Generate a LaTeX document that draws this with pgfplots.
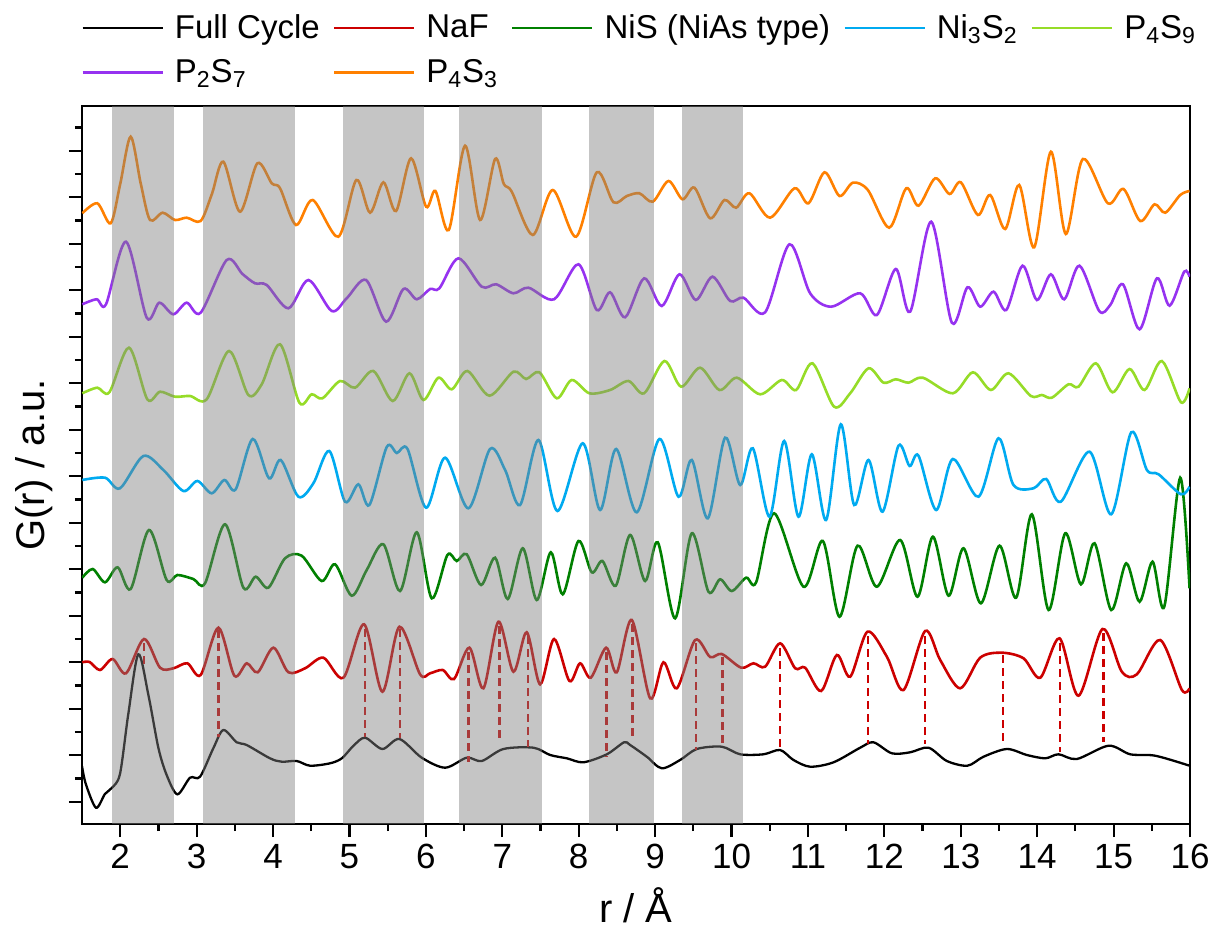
\documentclass[border=0pt]{standalone}
\usepackage{fontspec}
\setmainfont{Liberation Sans}
\usepackage{pgfplots}
\pgfplotsset{compat=1.18}
\definecolor{cBlack}{RGB}{0,0,0}
\definecolor{cNaF}{RGB}{204,0,0}
\definecolor{cNiS}{RGB}{0,128,0}
\definecolor{cNiTS}{RGB}{0,170,240}
\definecolor{cPFN}{RGB}{150,220,40}
\definecolor{cPTS}{RGB}{150,50,240}
\definecolor{cPFT}{RGB}{255,128,0}
\begin{document}
\begin{tikzpicture}
\useasboundingbox (-41pt,-56pt) rectangle (565.5pt,412pt);
\begin{axis}[
  at={(0pt,0pt)}, anchor=south west,
  scale only axis, width=554pt, height=359pt,
  xmin=1.5, xmax=16, ymin=0, ymax=718,
  xtick={2,3,...,16}, minor x tick num=1,
  ytick={22.3,68.8,...,700}, minor ytick={45.55,92.05,...,710}, yticklabels={},
  tick align=outside, xtick pos=bottom, ytick pos=left,
  major tick length=6.5pt, minor tick length=3.5pt,
  axis line style={line width=1.3pt},
  every tick/.style={line width=1.1pt, black},
  /pgf/number format/assume math mode=true,
  tick label style={font=\fontsize{17.5}{20}\selectfont},
  xlabel={r / Å}, ylabel={G(r) / a.u.},
  label style={font=\fontsize{20}{24}\selectfont},
  xlabel style={at={(axis description cs:0.5,-0.137)}, anchor=base},
  ylabel style={at={(axis description cs:-0.043,0.5)}, anchor=center},
  legend columns=5,
  legend cell align=left,
  legend style={draw=none, fill=none, at={(axis description cs:-0.001,1.132)}, anchor=north west,
    font=\fontsize{16.5}{19}\selectfont, inner sep=0pt, row sep=6pt,
    nodes={inner sep=1.5pt},
    /tikz/every odd column/.append style={column sep=4pt},
    /tikz/every even column/.append style={column sep=5pt}},
  legend image code/.code={\draw[#1] (0pt,0pt) -- (40pt,0pt);},
  every axis plot/.append style={line width=1.3pt},
]
% Full Cycle
\addplot[cBlack, line width=1.15pt, smooth] coordinates {
(1.5,58) (1.55,40) (1.683,16.3) (1.80,30) (1.889,36) (1.997,50) (2.106,110) (2.237,169.7) (2.369,129) (2.5,76) (2.608,49) (2.748,29.7) (2.914,46.3) (3.045,47.3) (3.22,76) (3.35,94) (3.524,81.7) (3.655,79) (3.96,65.7) (4.114,62.3) (4.31,63) (4.484,58.3) (4.746,60.7) (4.9,65.7) (5.05,78) (5.204,86.3) (5.431,75) (5.654,85) (5.946,66.3) (6.252,56.3) (6.535,66.3) (6.731,63) (7.015,75) (7.408,76.3) (7.626,69) (7.844,65.7) (8.062,61.7) (8.368,69.7) (8.594,81.7) (8.673,79) (8.891,67.3) (9.087,55.7) (9.327,64) (9.546,75) (9.873,77.3) (10.113,69.7) (10.418,69.7) (10.636,74) (10.811,64) (11.029,57.3) (11.335,61.7) (11.684,76.3) (11.858,81.7) (12.098,70.7) (12.338,71.7) (12.578,76.3) (12.818,63) (13.088,58.3) (13.298,67.3) (13.603,75) (13.865,69) (14.105,65.7) (14.279,69.7) (14.519,65) (14.934,78.3) (15.218,69.7) (15.545,68.3) (15.994,58.3)
};
\addlegendentry{Full Cycle}
% NaF
\addplot[cNaF, smooth] coordinates {
(1.504,161.7) (1.6,162) (1.736,154) (1.901,165) (2.076,150.7) (2.312,185) (2.521,156.3) (2.696,155.7) (2.879,160.7) (3.053,149) (3.285,196.3) (3.494,148.3) (3.656,160.7) (3.8,151.7) (4.005,176.3) (4.201,151.7) (4.419,155.7) (4.659,166.3) (4.921,146.3) (5.191,199.7) (5.431,132.3) (5.654,197.3) (5.924,149.7) (6.055,150.7) (6.221,154) (6.369,145) (6.57,176.3) (6.753,135.7) (6.95,202.3) (7.146,152.3) (7.32,191.7) (7.495,139.7) (7.678,185) (7.879,143) (8.018,160.7) (8.158,146.3) (8.359,176.3) (8.498,151.7) (8.695,204) (8.935,125.7) (9.109,161.7) (9.284,135.7) (9.524,184) (9.72,167) (9.873,170) (10.126,156.3) (10.287,160.7) (10.44,157.3) (10.636,180.7) (10.833,155.7) (10.964,156.3) (11.173,133) (11.378,169) (11.553,147.3) (11.779,192.3) (12.033,167.3) (12.251,134) (12.534,193) (12.731,164) (12.992,135.7) (13.254,166.3) (13.538,171.3) (13.821,165.7) (14.04,146.3) (14.293,185.7) (14.541,128.3) (14.855,195) (15.108,152.3) (15.305,149.7) (15.61,184) (15.894,134) (15.994,135.7)
};
\addlegendentry{NaF}
% NiS
\addplot[cNiS, smooth] coordinates {
(1.504,246.3) (1.64,255) (1.801,241.7) (1.967,256.7) (2.137,235) (2.377,294) (2.608,244) (2.748,249) (2.957,245) (3.11,240.7) (3.372,299.7) (3.612,236.3) (3.773,247.3) (3.939,236.3) (4.157,265.7) (4.375,268.3) (4.637,243) (4.812,259.7) (5.03,228.3) (5.226,254) (5.444,279.7) (5.662,233) (5.881,291.7) (6.077,225.7) (6.282,269) (6.404,263) (6.535,269.7) (6.723,239) (6.906,266.3) (7.072,225) (7.268,275.7) (7.451,224) (7.635,271.7) (7.792,229.7) (7.997,283) (8.171,251.7) (8.311,263) (8.485,238.3) (8.673,289) (8.869,243) (9.035,281.7) (9.262,205.7) (9.48,290.7) (9.698,232.3) (9.851,244.7) (10.004,233) (10.191,246.3) (10.322,241.7) (10.558,310.7) (10.942,237.3) (11.195,283) (11.413,207.3) (11.649,278.3) (11.902,237.3) (12.207,284) (12.434,227.3) (12.635,287.3) (12.84,228.3) (13.036,275.7) (13.263,220.7) (13.507,278.3) (13.725,226.3) (13.93,309.7) (14.149,214) (14.367,290.7) (14.572,239.7) (14.751,280.7) (14.969,214) (15.165,260.7) (15.34,222.3) (15.51,262.3) (15.663,217.3) (15.872,346.3) (15.994,235.7)
};
\addlegendentry{NiS (NiAs type)}
% Ni3S2
\addplot[cNiTS, smooth] coordinates {
(1.504,344) (1.801,346.3) (1.997,335.7) (2.303,368) (2.565,354) (2.827,333) (3.01,343) (3.197,330.7) (3.363,344) (3.511,334.7) (3.734,385) (3.948,345.7) (4.101,364) (4.332,327.3) (4.528,340.7) (4.737,373) (4.943,322.3) (5.117,339.7) (5.261,319) (5.488,377) (5.62,371) (5.76,375) (6.003,316.3) (6.251,366.3) (6.557,315.7) (6.84,375) (7.037,354) (7.233,319) (7.473,384) (7.722,313) (8.053,380.7) (8.28,314) (8.49,375) (8.76,311.7) (9.057,385) (9.306,327.3) (9.48,364) (9.69,305.7) (9.916,386.3) (10.113,339) (10.279,375.7) (10.497,307.3) (10.689,383) (10.876,307.3) (11.051,369.7) (11.238,304) (11.43,399.7) (11.605,319) (11.793,364) (11.976,312.3) (12.185,378.3) (12.33,358) (12.447,368.3) (12.678,314) (12.896,365) (13.232,327.3) (13.494,385.7) (13.69,339) (13.952,335.7) (14.118,345) (14.31,322.3) (14.685,372.3) (14.969,309.7) (15.231,391.7) (15.436,354) (15.589,349.7) (15.881,329.7) (15.994,337.3)
};
\addlegendentry{Ni\textsubscript{3}S\textsubscript{2}}
% P4S9
\addplot[cPFN, smooth] coordinates {
(1.504,430.7) (1.701,436.3) (1.858,431.7) (2.115,476.3) (2.355,424.7) (2.521,432.3) (2.717,427.3) (2.914,428) (3.132,424.7) (3.424,473) (3.677,429) (3.852,439.7) (4.092,479.7) (4.345,421.3) (4.506,429.7) (4.646,425.7) (4.877,443) (5.073,436.3) (5.313,453) (5.566,423) (5.785,450.7) (5.968,424) (6.164,446.3) (6.339,434.7) (6.544,453) (6.832,428.3) (7.146,452.3) (7.312,445) (7.486,451.7) (7.713,425.7) (7.909,444) (8.141,430.7) (8.411,434) (8.651,443) (8.856,430.7) (9.122,463) (9.34,437.3) (9.589,456.3) (9.842,434) (10.069,446.3) (10.375,429.7) (10.658,444) (10.846,434) (11.06,460.7) (11.343,417.3) (11.553,430.7) (11.793,455.7) (11.989,441.3) (12.15,444.7) (12.316,441.3) (12.504,446.3) (12.896,430.7) (13.158,451.7) (13.394,434) (13.625,450.7) (13.917,428) (14.061,429) (14.192,426.3) (14.41,439.7) (14.541,437.3) (14.768,460.7) (14.986,431.7) (15.209,455) (15.405,434) (15.632,463) (15.881,421.7) (15.994,435.7)
};
\addlegendentry{P\textsubscript{4}S\textsubscript{9}}
% P2S7
\addplot[cPTS, smooth] coordinates {
(1.504,519.7) (1.692,524.7) (1.814,519.7) (2.076,582.3) (2.347,506.3) (2.512,521.3) (2.695,509.7) (2.87,521.3) (3.053,511.3) (3.394,564) (3.6,550) (3.764,540.7) (3.917,539) (4.201,515.7) (4.463,544) (4.768,513) (4.964,525.7) (5.217,544) (5.479,502.3) (5.706,535) (5.881,524.7) (6.055,535) (6.177,535.7) (6.426,565.7) (6.731,537.3) (6.919,539.7) (7.146,530.7) (7.342,536.3) (7.678,524.7) (7.997,559.7) (8.237,514) (8.411,531.7) (8.608,506.7) (8.856,545.7) (9.087,518) (9.319,549.7) (9.533,524) (9.751,547.3) (9.982,523) (10.156,526.3) (10.44,511.7) (10.758,579.7) (11.029,530.7) (11.304,517.3) (11.684,530.7) (11.902,509) (12.15,555) (12.338,512.3) (12.613,602.3) (12.883,501.3) (13.088,536.7) (13.254,517.3) (13.429,532.3) (13.595,514) (13.808,558.3) (13.996,524) (14.179,549.7) (14.354,524.7) (14.554,558.3) (14.812,513) (14.956,519) (15.122,539.7) (15.34,494.7) (15.567,545.7) (15.733,518.3) (15.924,552.3) (15.994,547.3)
};
\addlegendentry{P\textsubscript{2}S\textsubscript{7}}
% P4S3
\addplot[cPFT, smooth] coordinates {
(1.504,610.7) (1.701,620.7) (1.875,600.7) (2.0,640) (2.137,687.3) (2.27,640) (2.39,604) (2.556,611.3) (2.717,604) (2.87,606.3) (3.053,603) (3.2,630) (3.35,662.3) (3.568,612.3) (3.795,660.7) (3.983,640.7) (4.092,635.7) (4.301,599) (4.519,624) (4.855,587.3) (5.09,644) (5.27,611.3) (5.444,641.7) (5.61,613) (5.806,665.7) (6.003,617.3) (6.125,633) (6.3,594) (6.513,678.3) (6.71,604) (6.906,665) (7.02,640) (7.124,632.3) (7.399,589) (7.661,634) (7.966,587.3) (8.237,651.7) (8.455,621.7) (8.63,628) (8.795,630.7) (8.97,622.3) (9.175,643) (9.358,624.7) (9.515,636.3) (9.72,605.7) (9.908,624) (10.06,616.3) (10.235,630.7) (10.505,606.3) (10.824,635.7) (11.007,620.7) (11.217,651.7) (11.413,628) (11.588,641.3) (11.784,634) (12.063,596.3) (12.286,635.7) (12.447,618.3) (12.665,645.7) (12.853,630) (13.001,641.7) (13.224,609) (13.385,629) (13.581,595) (13.765,639) (13.961,576.7) (14.179,672.3) (14.375,590) (14.598,665) (14.925,620.7) (15.13,635) (15.348,603) (15.536,619.7) (15.676,611.3) (15.872,629) (15.994,633)
};
\addlegendentry{P\textsubscript{4}S\textsubscript{3}}
% dashed guide lines
\pgfplotsset{every axis plot/.append style={forget plot}}
\addplot[cNaF, line width=1.3pt, dash pattern=on 4pt off 2.5pt, unbounded coords=jump] coordinates {
(2.312,181) (2.312,155) (nan,nan)
(3.285,194) (3.285,87) (nan,nan)
(5.204,195) (5.204,87) (nan,nan)
(5.662,195) (5.662,86) (nan,nan)
(6.557,172) (6.557,62) (nan,nan)
(6.963,198) (6.963,86) (nan,nan)
(7.334,188) (7.334,77) (nan,nan)
(8.367,172) (8.367,67) (nan,nan)
(8.704,200) (8.704,84) (nan,nan)
(9.537,181) (9.537,74) (nan,nan)
(9.882,167) (9.882,81) (nan,nan)
(10.636,176) (10.636,73) (nan,nan)
(11.784,188) (11.784,80) (nan,nan)
(12.534,188) (12.534,80) (nan,nan)
(13.551,169) (13.551,83) (nan,nan)
(14.301,181) (14.301,72) (nan,nan)
(14.869,191) (14.869,82)
};
% grey bands
\addplot[fill=gray, fill opacity=0.46, draw=none] coordinates {(1.89,718) (2.71,718)} \closedcycle;
\addplot[fill=gray, fill opacity=0.46, draw=none] coordinates {(3.09,718) (4.29,718)} \closedcycle;
\addplot[fill=gray, fill opacity=0.46, draw=none] coordinates {(4.92,718) (5.97,718)} \closedcycle;
\addplot[fill=gray, fill opacity=0.46, draw=none] coordinates {(6.43,718) (7.52,718)} \closedcycle;
\addplot[fill=gray, fill opacity=0.46, draw=none] coordinates {(8.14,718) (8.99,718)} \closedcycle;
\addplot[fill=gray, fill opacity=0.46, draw=none] coordinates {(9.35,718) (10.15,718)} \closedcycle;
\end{axis}
\end{tikzpicture}
\end{document}
